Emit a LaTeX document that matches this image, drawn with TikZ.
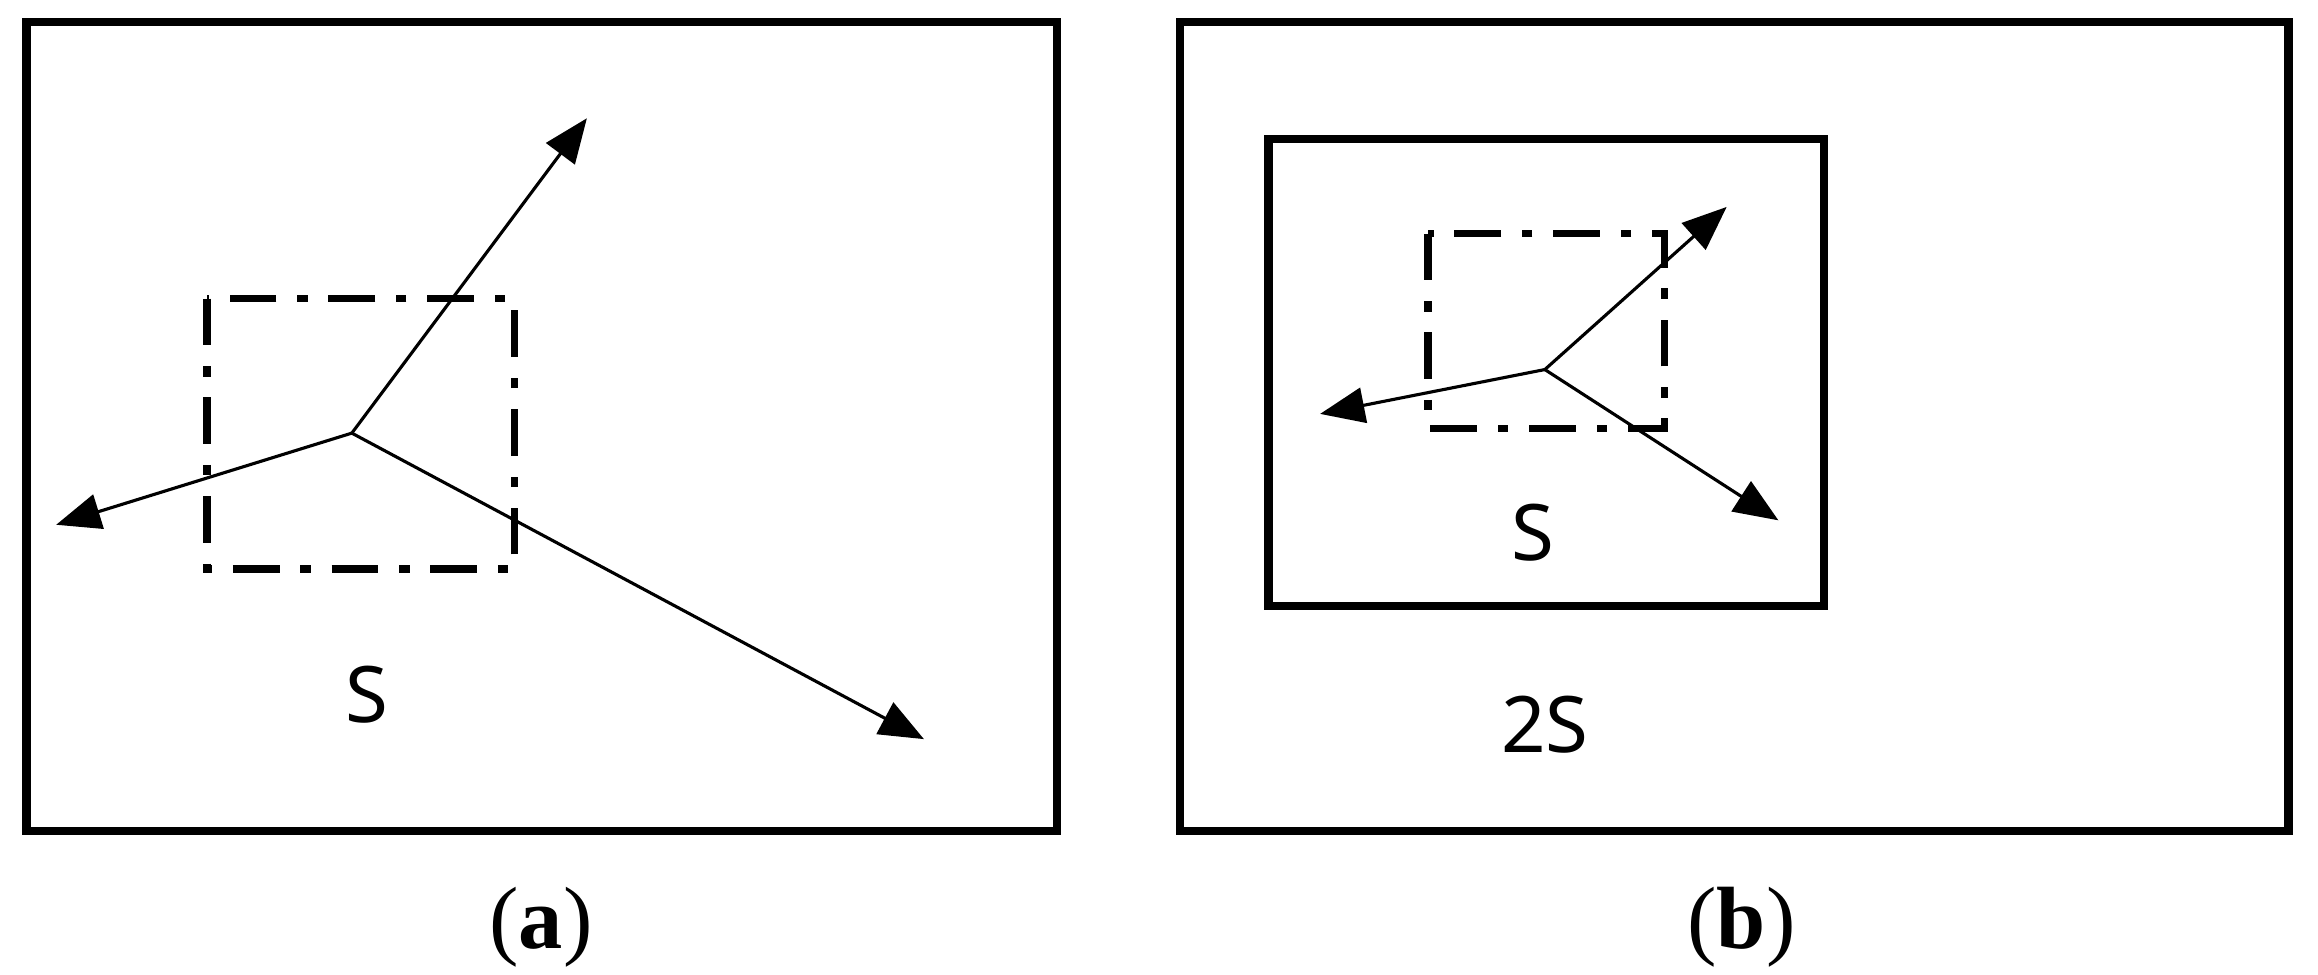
\documentclass[tikz,border=0pt]{standalone}
\usepackage{fontspec}
\setmainfont{Liberation Serif}
\newfontfamily\lblfont{Noto Sans}
\usetikzlibrary{arrows.meta}
\begin{document}
\begin{tikzpicture}[x=0.01cm,y=-0.01cm,
  frame/.style={line width=1.6pt},
  dbox/.style={line width=1.4pt,dash pattern=on 9pt off 4pt on 2pt off 4pt},
  vec/.style={line width=0.6pt,-{Triangle[length=0.3cm,width=0.24cm]}},
  lbl/.style={font=\lblfont\fontsize{15}{18}\selectfont},
  captext/.style={font=\fontsize{17}{20}\selectfont}]
\useasboundingbox (0,0) rectangle (1568,659);
% (a)
\draw[frame] (18,15) rectangle (715,562);
\draw[dbox] (140,202) rectangle (348,385);
\coordinate (ca) at (238,293);
\coordinate (a1) at (397,80);
\coordinate (a2) at (38,355);
\coordinate (a3) at (625,500);
\draw[vec] (ca) -- (a1);
\draw[vec] (ca) -- (a2);
\draw[vec] (ca) -- (a3);
\node[lbl] (sa) at (248,470) {S};
\node[captext] (capa) at (366,627) {(\textbf{a})};
% (b)
\draw[frame] (798,15) rectangle (1548,562);
\draw[frame] (858,94) rectangle (1234,410);
\draw[dbox] (966,158) rectangle (1126,290);
\coordinate (cb) at (1045,250);
\coordinate (b1) at (1168,140);
\coordinate (b2) at (893,280);
\coordinate (b3) at (1203,352);
\draw[vec] (cb) -- (b1);
\draw[vec] (cb) -- (b2);
\draw[vec] (cb) -- (b3);
\node[lbl] (sb) at (1037,360) {S};
\node[lbl] (s2) at (1045,490) {2S};
\node[captext] (capb) at (1178,627) {(\textbf{b})};
\end{tikzpicture}
\end{document}
